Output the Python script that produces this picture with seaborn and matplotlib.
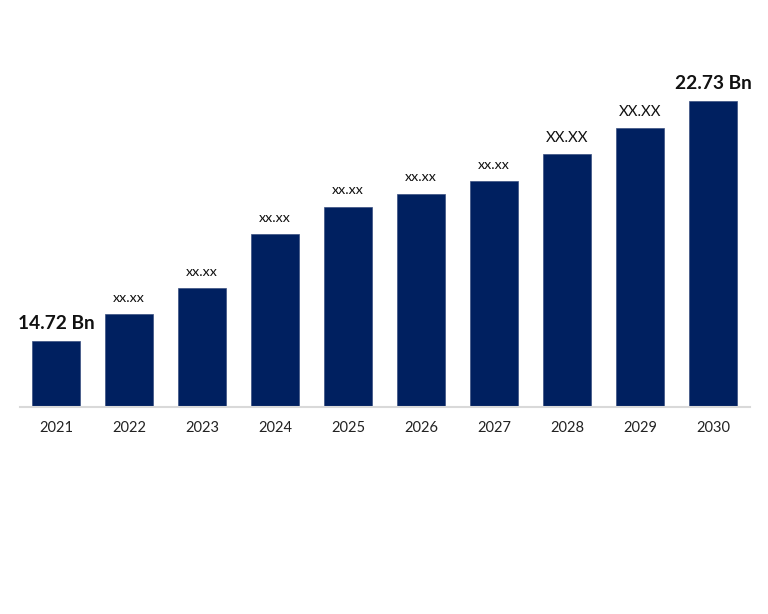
import matplotlib
matplotlib.use("Agg")
import matplotlib.pyplot as plt
import seaborn as sns
import pandas as pd

years = ["2021", "2022", "2023", "2024", "2025", "2026", "2027", "2028", "2029", "2030"]
values = [14.72, 15.62, 16.49, 18.29, 19.20, 19.63, 20.06, 20.96, 21.83, 22.73]
labels = ["14.72 Bn", "xx.xx", "xx.xx", "xx.xx", "xx.xx", "xx.xx", "xx.xx", "XX.XX", "XX.XX", "22.73 Bn"]

sns.set_style("white")
plt.rcParams["font.family"] = ["Lato", "DejaVu Sans"]

df = pd.DataFrame({"year": years, "value": values})

fig = plt.figure(figsize=(7.68, 6.14), dpi=100)
ax = fig.add_axes([19.5 / 768, 1 - 407 / 614, 730 / 768, 357 / 614])

sns.barplot(data=df, x="year", y="value", color="#002060", saturation=1,
            width=0.66, edgecolor="#3a4f80", linewidth=0.5, ax=ax)

ax.set_xlim(-0.5, 9.5)
ax.set_ylim(12.52, 12.52 + 357 * 0.033375)

for i, (v, lab) in enumerate(zip(values, labels)):
    if "Bn" in lab:
        fs, fw = 13.8, "bold"
    elif lab.isupper():
        fs, fw = 10.8, "normal"
    else:
        fs, fw = 10.3, "normal"
    ax.annotate(lab, (i, v), xytext=(0, 9), textcoords="offset points",
                ha="center", va="baseline", fontsize=fs, fontweight=fw, color="#111111")

ax.set_xlabel("")
ax.set_ylabel("")
ax.set_yticks([])
ax.tick_params(axis="x", length=0, labelsize=10.5, pad=10, colors="#222222")
for s in ["top", "right", "left"]:
    ax.spines[s].set_visible(False)
ax.spines["bottom"].set_color("#d9d9d9")
ax.spines["bottom"].set_linewidth(1.5)

fig.savefig("out.png", dpi=100, facecolor="white")
